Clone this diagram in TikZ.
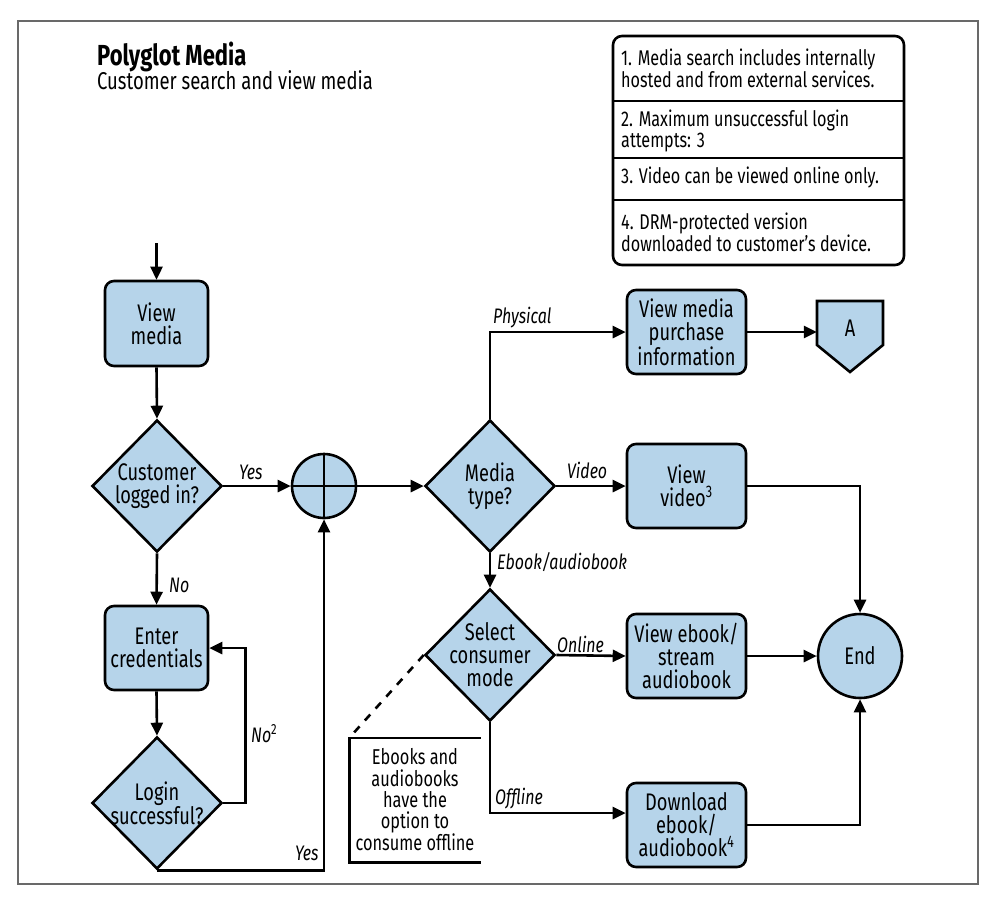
\documentclass[tikz,border=0pt]{standalone}
\usepackage{fontspec}
\setmainfont{Fira Sans}[FakeStretch=0.76]
\usetikzlibrary{arrows.meta,shapes.geometric,calc}

\definecolor{boxblue}{RGB}{182,212,234}
\definecolor{framegray}{RGB}{105,105,105}

\newcommand{\boxfont}{\fontsize{24}{23}\selectfont}
\newcommand{\notefont}{\fontsize{21.3}{21}\selectfont}
\newcommand{\bracketfont}{\fontsize{21.5}{21.2}\selectfont}
\newcommand{\lblfont}{\fontsize{21}{20}\selectfont\itshape}
\newcommand{\titlefont}{\fontsize{29}{28}\selectfont\bfseries}
\newcommand{\subfont}{\fontsize{24.3}{24}\selectfont}

\begin{document}
\begin{tikzpicture}[x=1pt,y=-1pt,
  flow/.style={line width=2.6pt},
  arr/.style={flow,-{Triangle[length=13pt,width=12pt]}},
  proc/.style={draw,line width=2.6pt,fill=boxblue,rounded corners=9pt,
    align=center,inner sep=0pt,font=\boxfont},
  decide/.style={draw,diamond,line width=2.6pt,fill=boxblue,
    minimum width=130pt,minimum height=132pt,inner sep=0pt},
  dtext/.style={font=\boxfont,align=center,inner sep=0pt},
  lbl/.style={font=\lblfont,inner sep=0pt,anchor=base west},
  note/.style={font=\notefont,align=left,inner sep=0pt,anchor=west},
]
\useasboundingbox (0,0) rectangle (990,898);

% outer frame
\draw[framegray,line width=1.5pt] (18,21) rectangle (978,884);

% heading
\node[anchor=base west,inner sep=0pt,font=\titlefont] (title) at (97,65) {Polyglot Media};
\node[anchor=base west,inner sep=0pt,font=\subfont] (subtitle) at (97,89) {Customer search and view media};

% numbered notes
\draw[line width=2.6pt,rounded corners=9pt] (613,36) rectangle (904,265);
\draw[line width=2.6pt] (613,101) -- (904,101) (613,158) -- (904,158) (613,200) -- (904,200);
\node[note] (note1) at (621,68.5) {1. Media search includes internally\\hosted and from external services.};
\node[note] (note2) at (621,131) {2. Maximum unsuccessful login\\attempts: 3};
\node[note] (note3) at (621,177) {3. Video can be viewed online only.};
\node[note] (note4) at (621,232) {4. DRM-protected version\\downloaded to customer’s device.};

% left column
\coordinate (entry) at (156.5,243);
\node[proc,minimum width=103pt,minimum height=85pt] (viewmedia) at (156.5,323.5) {View\\media};
\node[decide,label={[dtext]center:Customer\\logged in?}] (loggedin) at (157,486) {};
\node[proc,minimum width=103pt,minimum height=84pt] (enter) at (156.5,648) {Enter\\credentials};
\node[decide,label={[dtext]center:Login\\successful?}] (login) at (157,803) {};

% merge point
\node[draw,circle,line width=2.6pt,fill=boxblue,minimum size=64pt,inner sep=0pt] (join) at (324,486) {};
\draw[flow] (join.north) -- (join.south) (join.west) -- (join.east);

% media branches
\node[decide,label={[dtext]center:Media\\type?}] (mediatype) at (490,486) {};
\node[decide,label={[dtext]center:Select\\consumer\\mode}] (select) at (490,655) {};
\node[proc,minimum width=119pt,minimum height=84pt] (purchase) at (686.5,332) {View media\\purchase\\information};
\node[proc,minimum width=119pt,minimum height=84pt] (video) at (686.5,486) {View\\video\textsuperscript{3}};
\node[proc,minimum width=119pt,minimum height=84pt] (ebook) at (686.5,656) {View ebook/\\stream\\audiobook};
\node[proc,minimum width=119pt,minimum height=84pt] (download) at (686.5,825) {Download\\ebook/\\audiobook\textsuperscript{4}};
\node[draw,circle,line width=2.6pt,fill=boxblue,minimum size=84pt,inner sep=0pt,font=\boxfont] (end) at (860,656) {End};

% off-page connector
\draw[line width=2.6pt,fill=boxblue] (817,301) -- (883,301) -- (883,345) -- (850,372) -- (817,345) -- cycle;
\node[minimum width=66pt,minimum height=62pt,inner sep=0pt,font=\boxfont] (offpage) at (850,332) {\raisebox{8pt}{A}};

% annotation on the consumer mode
\node[minimum width=131pt,minimum height=124pt,inner sep=0pt,font=\bracketfont,align=center] (optnote) at (415,800)
  {Ebooks and\\audiobooks\\have the\\option to\\consume offline};
\draw[flow] (optnote.north east) -- (optnote.north west) -- (optnote.south west) -- (optnote.south east);
\draw[flow,dash pattern=on 8pt off 8pt] (select.west) -- (optnote.north west);

% connectors
\draw[arr] (entry) -- (viewmedia.north);
\draw[arr] (viewmedia.south) -- (loggedin.north);
\draw[arr] (loggedin.east) -- (join.west);
\draw[arr] (loggedin.south) -- (enter.north);
\draw[arr] (enter.south) -- (login.north);
\draw[arr] (login.east) -- ++(22,0) |- (enter.east);
\draw[arr] (login.south) -| (join.south);
\draw[arr] (join.east) -- (mediatype.west);
\draw[arr] (mediatype.north) |- (purchase.west);
\draw[arr] (purchase.east) -- (offpage.west);
\draw[arr] (mediatype.east) -- (video.west);
\draw[arr] (video.east) -| (end.north);
\draw[arr] (mediatype.south) -- (select.north);
\draw[arr] (select.east) -- (ebook.west);
\draw[arr] (ebook.east) -- (end.west);
\draw[arr] (select.south) |- ([yshift=12pt]download.west);
\draw[arr] (download.east) -| (end.south);

% connector labels
\node[lbl] (lblyesA) at (239,479) {Yes};
\node[lbl] (lblno) at (169,592) {No};
\node[lbl] (lblnoB) at (251,742) {No{\upshape\textsuperscript{2}}};
\node[lbl] (lblyesB) at (295,860) {Yes};
\node[lbl] (lblphys) at (493,323) {Physical};
\node[lbl] (lblvideo) at (567,478) {Video};
\node[lbl] (lblebook) at (497,569) {Ebook/audiobook};
\node[lbl] (lblonline) at (557,652) {Online};
\node[lbl] (lbloffline) at (495,804) {Offline};
\end{tikzpicture}
\end{document}
